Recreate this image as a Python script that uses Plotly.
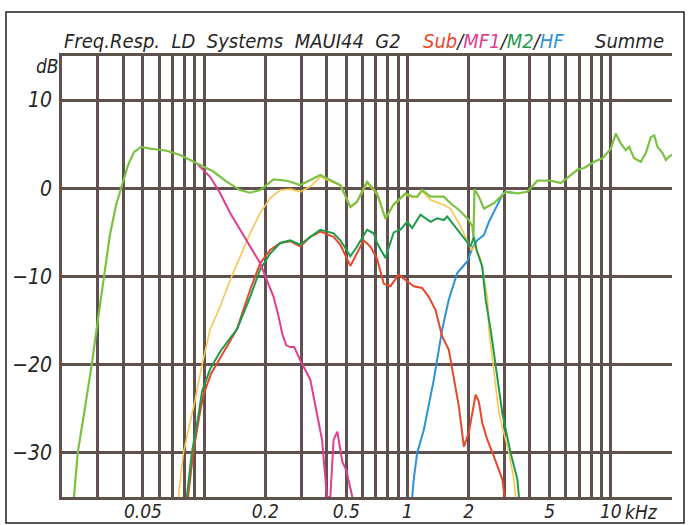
import plotly.graph_objects as go

# ---------------- data (frequency in kHz, level in dB) ----------------
summe_f = [0.0229, 0.0239, 0.0259, 0.0280, 0.0300, 0.0322, 0.0344, 0.0369, 0.0395, 0.0422,
           0.0452, 0.0489, 0.0542, 0.0655, 0.0762, 0.0921, 0.111, 0.129, 0.150, 0.168,
           0.189, 0.2195, 0.2556, 0.297, 0.333, 0.373, 0.433, 0.468, 0.524, 0.565,
           0.633, 0.709, 0.779, 0.856, 0.924, 0.978, 1.05, 1.116, 1.181, 1.298,
           1.510, 1.628, 1.824, 2.004, 2.083, 2.11, 2.138, 2.245, 2.376, 2.661,
           3.039, 3.471, 3.888, 4.353, 5.064, 5.672, 6.855, 7.389, 8.275, 9.101,
           10.0, 10.58, 11.2, 11.86, 12.31, 13.02, 14.05, 14.87, 15.74, 16.34,
           16.98, 17.97, 18.66, 19.37, 20.0]
summe_db = [-35, -30, -25, -20, -15, -10, -5.3, -1.9, 0.4, 2.6,
            4.1, 4.7, 4.5, 4.26, 3.77, 2.83, 1.9, 0.75, -0.2, -0.5,
            -0.2, 1.0, 0.86, 0.37, 0.94, 1.5, 0.75, 0.37, -2.1, -1.5,
            0.75, -0.57, -3.4, -1.8, -1.1, -0.57, -0.9, -0.95, -0.2, -0.95,
            -0.95, -1.7, -2.6, -3.6, -4.3, -5.5, -0.1, -0.95, -2.3, -1.7,
            -0.4, -0.57, -0.4, 0.86, 0.86, 0.6, 2.1, 2.3, 3.0, 3.4,
            4.5, 6.2, 5.1, 4.3, 4.7, 3.4, 3.0, 4.0, 5.8, 6.0,
            4.7, 4.0, 3.2, 3.6, 3.8]

mid_f = [0.0747, 0.0791, 0.0903, 0.0977, 0.107, 0.1199, 0.1343, 0.1504, 0.1684, 0.1887,
         0.2114, 0.2368, 0.2653, 0.2971, 0.3328, 0.3727, 0.4334, 0.468, 0.524, 0.565,
         0.633, 0.709, 0.779, 0.856, 0.924, 0.978, 1.05, 1.116, 1.181, 1.298,
         1.510, 1.628, 1.824, 2.004, 2.083, 2.138, 2.289, 2.479, 2.515, 2.818,
         3.155, 3.339, 3.405]
mid_db = [-35, -30, -24, -20, -16, -13.4, -10.4, -7.7, -5.1, -2.8,
          -1.1, -0.2, -0.1, -0.4, 0.2, 1.3, 0.6, 0.3, -2.2, -1.6,
          0.6, -0.7, -3.5, -1.9, -1.2, -0.7, -1.0, -1.0, -0.3, -1.3,
          -1.9, -2.3, -4.3, -6.4, -7.0, -6.5, -8.0, -12.6, -16.0, -25.5,
          -30.0, -33.0, -35]

m2_f = [0.0822, 0.0870, 0.0934, 0.0977, 0.107, 0.120, 0.134, 0.145, 0.1684, 0.1887,
        0.2114, 0.2368, 0.2653, 0.2971, 0.3328, 0.3727, 0.4334, 0.4677, 0.5238, 0.5652,
        0.6330, 0.6823, 0.7091, 0.7790, 0.8560, 0.9237, 0.997, 1.055, 1.159, 1.298,
        1.401, 1.510, 1.569, 1.691, 1.824, 1.931, 2.043, 2.121, 2.188, 2.333,
        2.423, 2.564, 2.713, 2.928, 3.217, 3.471, 3.534]
m2_db = [-35, -30, -26, -23, -20.5, -18.5, -17, -16, -12.3, -9.2,
         -7.4, -6.2, -5.9, -6.4, -5.5, -4.7, -5.1, -5.9, -7.7, -6.6,
         -4.7, -5.1, -6.2, -7.9, -5.0, -4.7, -3.8, -4.5, -3.0, -3.8,
         -3.4, -3.6, -3.2, -4.2, -5.1, -5.9, -6.6, -5.5, -7.0, -8.9,
         -12.6, -16.0, -19.8, -25.5, -30.0, -33.0, -35]

sub_f = [0.0834, 0.0883, 0.0945, 0.0989, 0.1083, 0.1213, 0.1449, 0.1684, 0.1887, 0.2114,
         0.2368, 0.2653, 0.2971, 0.3328, 0.3727, 0.4334, 0.4677, 0.5238, 0.5652, 0.6092,
         0.6573, 0.7091, 0.7643, 0.8247, 0.9061, 0.9776, 1.074, 1.181, 1.273, 1.374,
         1.482, 1.597, 1.691, 1.789, 1.894, 2.004, 2.163, 2.245, 2.333, 2.470,
         2.661, 2.818, 2.928, 3.005]
sub_db = [-35, -30, -26, -23.5, -21, -19, -16, -11.5, -8.5, -7.0,
          -6.2, -6.0, -6.6, -5.5, -4.9, -5.5, -6.4, -8.8, -7.4, -5.9,
          -6.6, -8.0, -10.8, -11.1, -9.8, -10.4, -11.1, -11.3, -12.3, -13.8,
          -16.8, -18.3, -21.7, -24.7, -29.3, -27.7, -23.4, -24.2, -26.6, -28.5,
          -30.4, -31.9, -33.0, -35]

mf1_f = [0.0921, 0.1070, 0.1199, 0.1343, 0.1504, 0.1684, 0.1887, 0.2036, 0.2195, 0.2323,
         0.2422, 0.2534, 0.2653, 0.2775, 0.2971, 0.3328, 0.3562, 0.3800, 0.4021, 0.4175,
         0.4334, 0.4518, 0.4783, 0.5005, 0.5358]
mf1_db = [2.8, 1.3, -0.57, -2.8, -4.7, -6.6, -8.5, -10.4, -12.3, -14.5,
          -16.5, -17.8, -18.0, -18.0, -19.5, -21.7, -25.0, -28.5, -35, -35,
          -28.5, -27.6, -31.0, -32.0, -35]

hf_f = [1.055, 1.074, 1.116, 1.203, 1.348, 1.482, 1.597, 1.757, 1.968, 2.083,
        2.204, 2.376, 2.515, 2.713, 2.928, 3.039, 3.290]
hf_db = [-35, -33, -30, -27.4, -21.7, -16, -12.6, -9.6, -8.3, -6.8,
         -5.9, -5.3, -3.8, -2.3, -0.76, -0.4, -0.5]

grid_vals = [0.03, 0.04, 0.05, 0.06, 0.07, 0.08, 0.09,
             0.1, 0.2, 0.3, 0.4, 0.5, 0.6, 0.7, 0.8, 0.9,
             1, 2, 3, 4, 5, 6, 7, 8, 9, 10]
grid_text = ["", "", "0.05", "", "", "", "",
             "", "0.2", "", "", "0.5", "", "", "", "",
             "1", "2", "", "", "5", "", "", "", "", "10"]
y_vals = [10, 0, -10, -20, -30]
y_text = ["10", "0", "\u221210", "\u221220", "\u221230"]

# ---------------- styling ----------------
FONT = "'Liberation Sans Narrow', 'DejaVu Sans Condensed', 'Liberation Sans', Arial, sans-serif"
GRID = "#5f514d"
DARK = "#262626"
C_SUB = "#e8472a"
C_MF1 = "#e23d8e"
C_M2 = "#1e9b4b"
C_HF = "#2b92d8"
C_MID = "#f6c650"
C_SUM = "#7cc142"

fig = go.Figure()
series = [
    (hf_f, hf_db, C_HF, 2.0, "HF"),
    (sub_f, sub_db, C_SUB, 2.0, "Sub"),
    (mid_f, mid_db, C_MID, 1.6, "MF"),
    (m2_f, m2_db, C_M2, 2.0, "M2"),
    (mf1_f, mf1_db, C_MF1, 2.0, "MF1"),
    (summe_f, summe_db, C_SUM, 2.2, "Summe"),
]
for fx, fy, col, w, name in series:
    fig.add_trace(go.Scatter(x=fx, y=fy, mode="lines", name=name,
                             line=dict(color=col, width=w), hoverinfo="skip",
                             cliponaxis=True))

W, H = 689, 525
ML, MR, MT, MB = 62, 17, 56, 28
PW, PH = W - ML - MR, H - MT - MB


def px(x):
    return (x - ML) / PW


def py(y):
    return (H - MB - y) / PH


fig.update_layout(
    template="none",
    width=W, height=H,
    margin=dict(l=ML, r=MR, t=MT, b=MB, pad=0, autoexpand=False),
    paper_bgcolor="white", plot_bgcolor="white",
    showlegend=False,
    xaxis=dict(type="log", range=[-1.69897, 1.30103], automargin=False,
               tickvals=grid_vals, ticktext=grid_text,
               showgrid=True, gridcolor=GRID, gridwidth=2.5,
               showline=True, linecolor=GRID, linewidth=2.5, mirror=True,
               ticks="", zeroline=False,
               tickfont=dict(family=FONT, size=19, color=DARK, style="italic"),
               ticklabelstandoff=-5),
    yaxis=dict(range=[-35, 15], tickvals=y_vals, ticktext=y_text, automargin=False,
               showgrid=True, gridcolor=GRID, gridwidth=2.5,
               showline=True, linecolor=GRID, linewidth=2.5, mirror=False,
               ticks="", zeroline=False,
               tickfont=dict(family=FONT, size=21, color=DARK, style="italic"),
               ticklabelstandoff=3),
)

ann_font = dict(family=FONT, size=20, color=DARK, style="italic")
fig.add_annotation(x=px(62), y=py(41), xref="paper", yref="paper", xanchor="left", yanchor="middle",
                   text="Freq.Resp.  LD  Systems  MAUI44  G2", showarrow=False, font=ann_font)
fig.add_annotation(x=px(421), y=py(41), xref="paper", yref="paper", xanchor="left", yanchor="middle",
                   text=(f"<span style='color:{C_SUB}'>Sub</span>/"
                         f"<span style='color:{C_MF1}'>MF1</span>/"
                         f"<span style='color:{C_M2}'>M2</span>/"
                         f"<span style='color:{C_HF}'>HF</span>"),
                   showarrow=False, font=ann_font)
fig.add_annotation(x=px(666), y=py(41), xref="paper", yref="paper", xanchor="right", yanchor="middle",
                   text="Summe", showarrow=False, font=ann_font)
fig.add_annotation(x=px(61), y=py(66), xref="paper", yref="paper", xanchor="right", yanchor="middle",
                   text="dB", showarrow=False, font=dict(family=FONT, size=19, color=DARK, style="italic"))
fig.add_annotation(x=px(623), y=py(512), xref="paper", yref="paper", xanchor="left", yanchor="middle",
                   text="kHz", showarrow=False, font=dict(family=FONT, size=19, color=DARK, style="italic"))

# outer frame
fig.add_shape(type="rect", xref="paper", yref="paper",
              x0=px(6), x1=px(684), y0=py(523), y1=py(12),
              line=dict(color="#222222", width=1.5), fillcolor="rgba(0,0,0,0)", layer="below")

fig.write_html("out.html")
